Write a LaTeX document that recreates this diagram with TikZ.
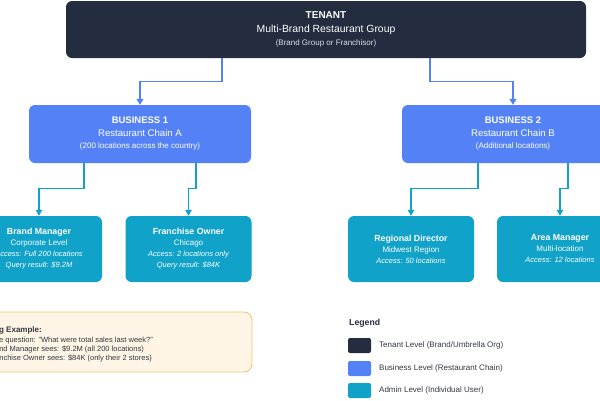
\documentclass[tikz,border=0pt]{standalone}
\usepackage{fontspec}
\setmainfont{Liberation Sans}
\usetikzlibrary{arrows.meta}
\definecolor{tenantcol}{HTML}{232D3F}
\definecolor{bizcol}{HTML}{5482F6}
\definecolor{admincol}{HTML}{10A2C8}
\definecolor{notefill}{HTML}{FEF5E6}
\definecolor{notedraw}{HTML}{F5C670}
\definecolor{inkcol}{HTML}{333840}
\newcommand{\lvlhead}[1]{{\bfseries #1}}
\newcommand{\lvlnote}[1]{{\itshape\fontsize{7.5}{11}\selectfont #1}}

\begin{document}
\begin{tikzpicture}[x=1pt,y=-1pt,
      tenantbox/.style={fill=tenantcol,rounded corners=6pt,text=white,align=center,
        minimum width=520pt,minimum height=57pt,font=\fontsize{10.4}{13.5}\selectfont},
      bizbox/.style={fill=bizcol,rounded corners=6pt,text=white,align=center,
        minimum width=222pt,minimum height=58pt,font=\fontsize{9.6}{12.5}\selectfont},
      adminbox/.style={fill=admincol,rounded corners=6pt,text=white,align=center,
        minimum width=126pt,minimum height=66pt,font=\fontsize{8}{11}\selectfont},
      notebox/.style={fill=notefill,draw=notedraw,line width=.9pt,rounded corners=8pt},
      swatch/.style={rounded corners=2pt,minimum width=23pt,minimum height=15pt,inner sep=0pt},
      toplink/.style={draw=bizcol,line width=1.4pt,-{Triangle[width=7pt,length=6pt]}},
      adminlink/.style={draw=admincol,line width=1.2pt,-{Triangle[width=6.5pt,length=6pt]}}]
    \clip (0,0) rectangle (600,400);
    \useasboundingbox (0,0) rectangle (600,400);
    % tenant level
    \node[tenantbox] (tenant) at (326,29.5) {{\bfseries\fontsize{10}{13.5}\selectfont TENANT}\\
      Multi-Brand Restaurant Group\\{\fontsize{8}{13.5}\selectfont\color{white!85!tenantcol}(Brand Group or Franchisor)}};
    % business level
    \node[bizbox] (biz1) at (140,134) {{\bfseries\fontsize{9.5}{12.5}\selectfont BUSINESS 1}\\
      Restaurant Chain A\\{\fontsize{8}{12.5}\selectfont(200 locations across the country)}};
    \node[bizbox] (biz2) at (513,134) {{\bfseries\fontsize{9.5}{12.5}\selectfont BUSINESS 2}\\
      Restaurant Chain B\\{\fontsize{8}{12.5}\selectfont(Additional locations)}};
    % admin level
    \node[adminbox] (brandmgr) at (39,249) {\lvlhead{\fontsize{8.8}{11}\selectfont Brand Manager}\\Corporate Level\\
      \lvlnote{Access: Full 200 locations}\\\lvlnote{Query result: \$9.2M}};
    \node[adminbox] (franchise) at (188.5,249) {\lvlhead{\fontsize{8.8}{11}\selectfont Franchise Owner}\\Chicago\\
      \lvlnote{Access: 2 locations only}\\\lvlnote{Query result: \$84K}};
    \node[adminbox] (regional) at (411,249) {\lvlhead{\fontsize{8.8}{11}\selectfont Regional Director}\\Midwest Region\\
      \lvlnote{Access: 50 locations}};
    \node[adminbox] (areamgr) at (560,249) {\lvlhead{\fontsize{8.8}{11}\selectfont Area Manager}\\Multi-location\\
      \lvlnote{Access: 12 locations}};
    % connectors
    \draw[toplink] ([xshift=-104pt]tenant.south) -- ++(0,23) -| (biz1.north);
    \draw[toplink] ([xshift=104pt]tenant.south) -- ++(0,23) -| (biz2.north);
    \draw[adminlink] ([xshift=-56pt]biz1.south) -- ++(0,25) -| (brandmgr.north);
    \draw[adminlink] ([xshift=56pt]biz1.south) -- ++(0,25) -| (franchise.north);
    \draw[adminlink] ([xshift=-35pt]biz2.south) -- ++(0,25) -| (regional.north);
    \draw[adminlink] ([xshift=55pt]biz2.south) -- ++(0,25) -| (areamgr.north);
    % example box
    \node[notebox,minimum width=332pt,minimum height=60pt] (note) at (86,342) {};
    \foreach \ex/\ey/\etxt [count=\ei] in {
      42/332/{\bfseries\fontsize{8}{9}\selectfont Filtering Example:},
      153/342/{Same question: "What were total sales last week?"},
      144/351/{Brand Manager sees: \$9.2M (all 200 locations)},
      152/360.5/{Franchise Owner sees: \$84K (only their 2 stores)}} {
      \node[anchor=base east,inner sep=0pt,text=inkcol,font=\fontsize{7.5}{9}\selectfont] (exline\ei) at (\ex,\ey) {\etxt};
    }
    % legend
    \node[anchor=west,inner sep=0pt,text=tenantcol,font=\bfseries\fontsize{8.7}{10}\selectfont] (legend) at (349,323) {Legend};
    \foreach \ly/\lcol/\ltxt [count=\li] in {
      345.5/tenantcol/{Tenant Level (Brand/Umbrella Org)},
      368.5/bizcol/{Business Level (Restaurant Chain)},
      390.5/admincol/{Admin Level (Individual User)}} {
      \node[swatch,fill=\lcol] (legsw\li) at (359.5,\ly) {};
      \node[anchor=west,inner sep=0pt,text=inkcol,font=\fontsize{8}{10}\selectfont] (legtxt\li) at (379,\ly) {\ltxt};
    }
  \end{tikzpicture}
\end{document}
